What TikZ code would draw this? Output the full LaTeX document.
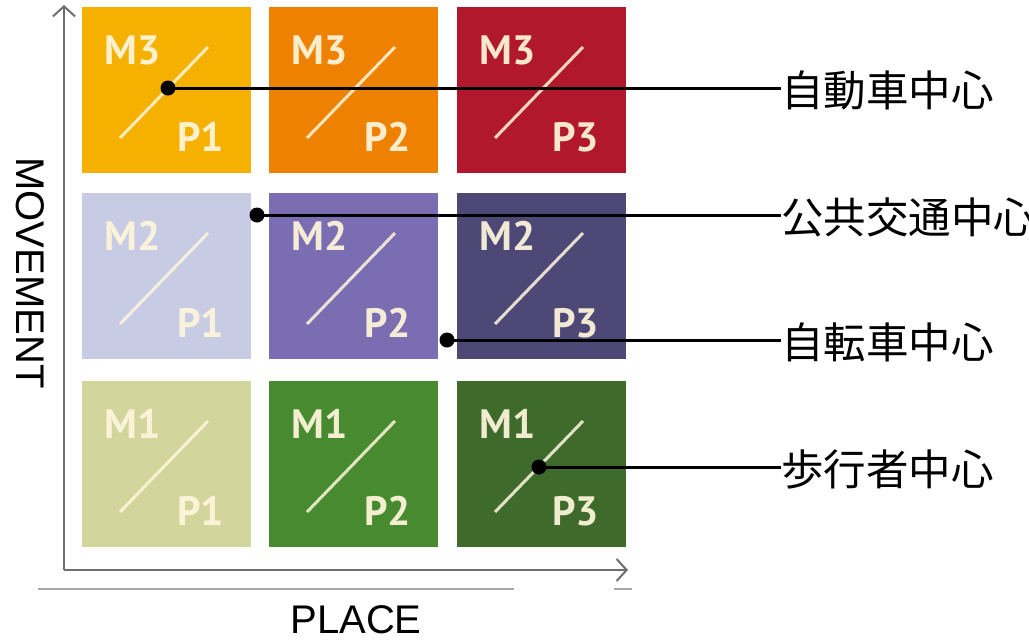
\documentclass[tikz,border=0pt]{standalone}
\usepackage{fontspec}
\setmainfont{Liberation Sans}
\newfontfamily\cjk{Noto Sans CJK JP}
\newfontfamily\cellfont{PT Sans}
\usetikzlibrary{arrows.meta}
\definecolor{cA}{HTML}{F5B000}
\definecolor{cB}{HTML}{EE8200}
\definecolor{cC}{HTML}{B2182B}
\definecolor{cD}{HTML}{C7CBE3}
\definecolor{cE}{HTML}{7A6DB1}
\definecolor{cF}{HTML}{4E4877}
\definecolor{cG}{HTML}{D3D69C}
\definecolor{cH}{HTML}{478A2F}
\definecolor{cI}{HTML}{3E6B2C}
\definecolor{axisgrey}{HTML}{6E6E6E}
\definecolor{cream}{HTML}{FFF6DC}
\tikzset{
  cellbox/.style={fill=#1, draw=none, minimum width=169pt, minimum height=166pt, inner sep=0pt, anchor=north west},
  celltxt/.style={text=cream, opacity=0.93, font=\cellfont\bfseries\fontsize{41}{41}\selectfont, inner sep=0pt},
  slash/.style={draw=cream, opacity=0.85, line width=3pt},
  dotmark/.style={circle, fill=black, inner sep=0pt, minimum size=15pt},
  callout/.style={line width=3pt, black},
  jlabel/.style={font=\cjk\fontsize{42.5}{42.5}\selectfont, anchor=west, inner sep=0pt},
  axisline/.style={draw=axisgrey, line width=2pt, -{Straight Barb[length=10pt,width=22pt,line width=2pt]}},
  axislabel/.style={font=\fontsize{40}{40}\selectfont, inner sep=0pt}
}
\begin{document}
\begin{tikzpicture}[x=1pt, y=-1pt]
\useasboundingbox[fill=white] (0,0) rectangle (1029,641);
% cells
\node[cellbox=cA] (c31) at (82,7) {};
\node[cellbox=cB] (c32) at (269,7) {};
\node[cellbox=cC] (c33) at (457,7) {};
\node[cellbox=cD] (c21) at (82,193) {};
\node[cellbox=cE] (c22) at (269,193) {};
\node[cellbox=cF] (c23) at (457,193) {};
\node[cellbox=cG] (c11) at (82,381) {};
\node[cellbox=cH] (c12) at (269,381) {};
\node[cellbox=cI] (c13) at (457,381) {};
\foreach \n/\mm/\pp in {c31/M3/P1, c32/M3/P2, c33/M3/P3, c21/M2/P1, c22/M2/P2, c23/M2/P3, c11/M1/P1, c12/M1/P2, c13/M1/P3}{
  \draw[slash] ([shift={(38,131)}]\n.north west) -- ([shift={(126,40)}]\n.north west);
  \node[celltxt, anchor=base west] at ([shift={(22,57)}]\n.north west) {\mm};
  \node[celltxt, anchor=base east] at ([shift={(142,144)}]\n.north west) {\pp};
}
% axes
\coordinate (origin) at (64,570);
\coordinate (ytip) at (64,5);
\coordinate (xtip) at (628,570);
\draw[axisline] (origin) -- (ytip);
\draw[axisline] (origin) -- (xtip);
\draw[draw=black!35, line width=1.5pt] (38,589) -- (514,589);
\draw[draw=black!35, line width=1.5pt] (614,589) -- (632,589);
\node[axislabel, rotate=-90] (mv) at (30,273) {MOVEMENT};
\node[axislabel, anchor=base] (pl) at (356,633) {PLACE};
% callouts
\node[dotmark] (d1) at (168,88) {};
\node[dotmark] (d2) at (257,215) {};
\node[dotmark] (d3) at (447,340) {};
\node[dotmark] (d4) at (539,467) {};
\node[jlabel] (l1) at (781,90) {自動車中心};
\node[jlabel] (l2) at (781,217) {公共交通中心};
\node[jlabel] (l3) at (781,342) {自転車中心};
\node[jlabel] (l4) at (781,469) {歩行者中心};
\draw[callout] (d1.center) -- (d1.center -| l1.west);
\draw[callout] (d2.center) -- (d2.center -| l2.west);
\draw[callout] (d3.center) -- (d3.center -| l3.west);
\draw[callout] (d4.center) -- (d4.center -| l4.west);
\end{tikzpicture}
\end{document}
